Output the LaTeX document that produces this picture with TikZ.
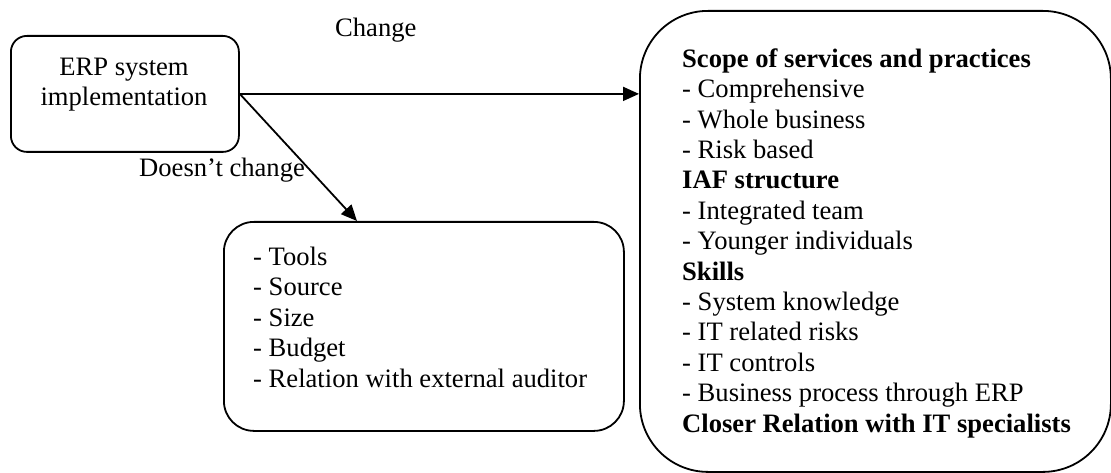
\documentclass[tikz,border=0pt]{standalone}
\usepackage{fontspec}
\setmainfont{Liberation Serif}
\usetikzlibrary{arrows.meta,positioning}
\tikzset{
  box/.style={draw, line width=1.8pt, inner sep=0pt, anchor=north west},
  txt/.style={inner sep=0pt, align=left, font=\fontsize{26.6}{30.4}\selectfont},
  arr/.style={line width=1.8pt, -{Triangle[length=16pt,width=14pt]}},
}
\begin{document}
\begin{tikzpicture}[x=1pt,y=-1pt]
\useasboundingbox (0,0) rectangle (1111,473);
% boxes
\node[box, rounded corners=16pt, minimum width=228pt, minimum height=116pt] (erp) at (10,35) {};
\node[box, rounded corners=30pt, minimum width=400pt, minimum height=209pt] (lbox) at (223,221) {};
\node[box, rounded corners=68pt, minimum width=471pt, minimum height=461pt] (rbox) at (639,10) {};
% texts
\node[txt, align=center, anchor=base] (erptxt) at (124,106) {ERP system\\implementation};
\node[txt, anchor=base west] (chg) at (335,37) {Change};
\node[txt, anchor=base west] (nochg) at (139,177) {Doesn’t change};
\node[txt, anchor=base west] (ltxt) at (253,387) {- Tools\\- Source\\- Size\\- Budget\\- Relation with external auditor};
\node[txt, anchor=base west] (rtxt) at (682,432) {\textbf{Scope of services and practices}\\- Comprehensive\\- Whole business\\- Risk based\\\textbf{IAF structure}\\- Integrated team\\- Younger individuals\\\textbf{Skills}\\- System knowledge\\- IT related risks\\- IT controls\\- Business process through ERP\\\textbf{Closer Relation with IT specialists}};
% connectors
\draw[arr] (erp.east) -- (erp.east -| rbox.west);
\draw[arr] (erp.east) -- ([xshift=134pt]lbox.north west);
\end{tikzpicture}
\end{document}
